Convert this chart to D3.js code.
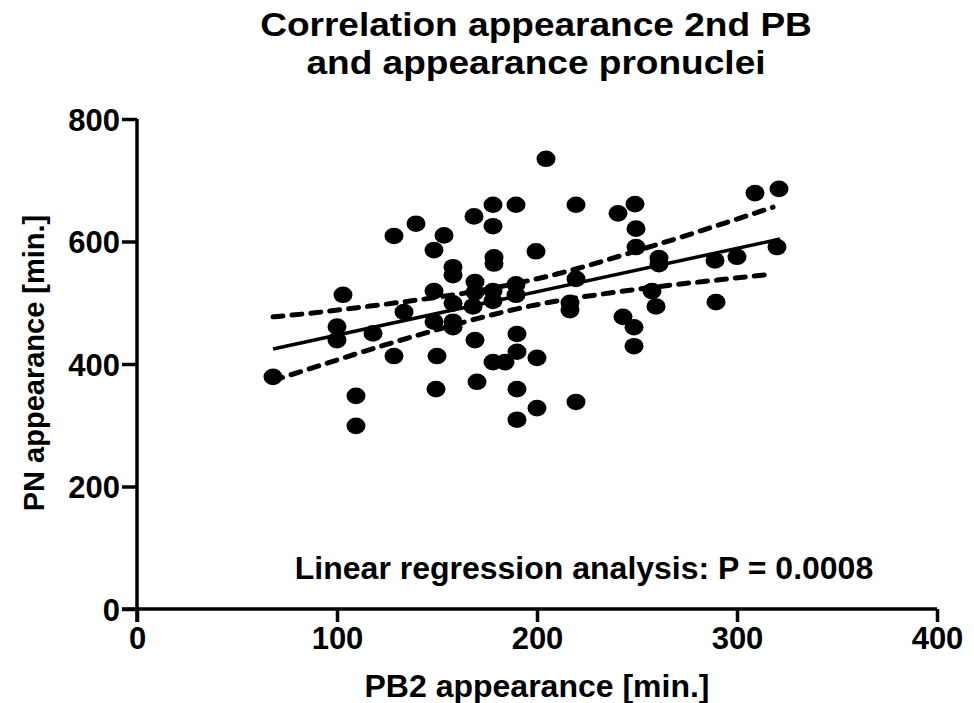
<!DOCTYPE html>
<html>
<head>
<meta charset="utf-8">
<script src="https://cdn.jsdelivr.net/npm/d3@7"></script>
<style>
  body { margin: 0; background: #fff; }
  svg { display: block; font-family: "Liberation Sans", Arial, sans-serif; font-weight: bold; }
  .axis path, .axis line { stroke: #000; stroke-width: 3.5px; }
  .axis text { font-size: 31px; font-weight: bold; fill: #000; font-family: "Liberation Sans", Arial, sans-serif; }
</style>
</head>
<body>
<svg id="chart" width="974" height="703"></svg>
<script>
// scatter points
const PB2 = [68, 100, 100, 103, 109.5, 109.5, 118, 128.5, 128.5, 133.5, 139.5, 148.5, 153.5, 148.5, 148.5,
  150, 149.5, 158, 158, 158, 158, 158, 168.5, 169, 169, 168, 169, 170, 178, 178, 178.5, 178.5, 178, 178,
  178, 184, 189.5, 189.5, 189.5, 190, 190, 190, 190, 199.5, 200, 200, 204.5, 219.5, 219.5, 216.5, 216.5,
  219.5, 240.5, 249, 249.5, 249.5, 243, 248.5, 248.5, 257.5, 259.5, 261, 261, 289, 289.5, 300, 309, 321, 320];
const PN = [379, 461, 439, 513, 348, 299, 450, 609, 413, 485, 629, 586, 610, 519, 469,
  413, 359, 558, 545, 499, 469, 460, 641, 534, 517, 494, 439, 371, 660, 625, 574, 564, 519, 503,
  403, 403, 660, 530, 513, 449, 420, 359, 309, 584, 410, 328, 735, 660, 539, 500, 488,
  338, 646, 661, 621, 591, 477, 460, 429, 519, 494, 573, 563, 569, 501, 575, 679, 686, 591];

// regression line and 95% band
const fitX = [68, 321.5];
const fitY = [424.5, 604];
const bandX = [68, 90, 110, 130, 150, 170, 190, 210, 230, 250, 270, 290, 318];
const bandUpper = [477, 484, 492, 500, 509, 519, 532, 547, 565, 585, 605, 626, 656];
const bandLower = [373, 396, 417, 437, 456, 474, 490, 503, 513, 522, 530, 537, 547];

const xTicks = [0, 100, 200, 300, 400];
const yTicks = [0, 200, 400, 600, 800];

const svg = d3.select("#chart");
const x = d3.scaleLinear().domain([0, 400]).range([137, 937]);
const y = d3.scaleLinear().domain([0, 800]).range([609, 119]);

// title (slightly widened, as in the original)
const title = svg.append("text")
  .attr("transform", "translate(536,0) scale(1.09,1)")
  .attr("text-anchor", "middle")
  .style("font-size", "34px");
title.append("tspan").attr("x", 0).attr("y", 36).text("Correlation appearance 2nd PB");
title.append("tspan").attr("x", 0).attr("y", 74).text("and appearance pronuclei");

// axes
svg.append("g")
  .attr("class", "axis")
  .attr("transform", "translate(0,609)")
  .call(d3.axisBottom(x).tickValues(xTicks).tickSize(13).tickSizeOuter(0).tickPadding(5))
  .call(g => g.select(".domain").attr("d", `M${x(0) - 15},0H${x(400)}`));

svg.append("g")
  .attr("class", "axis")
  .attr("transform", "translate(137,0)")
  .call(d3.axisLeft(y).tickValues(yTicks).tickSize(15).tickSizeOuter(0).tickPadding(2))
  .call(g => g.select(".domain").attr("d", `M0,${y(800)}V${y(0) + 13}`))
  .call(g => g.selectAll("text").attr("dy", "0.36em"));

// axis titles
svg.append("text")
  .attr("x", 537)
  .attr("y", 697)
  .attr("text-anchor", "middle")
  .style("font-size", "32px")
  .text("PB2 appearance [min.]");

svg.append("text")
  .attr("transform", "translate(44,363) rotate(-90)")
  .attr("text-anchor", "middle")
  .style("font-size", "29px")
  .text("PN appearance [min.]");

// points
const points = PB2.map((v, i) => ({ x: v, y: PN[i] }));
svg.append("g")
  .selectAll("ellipse")
  .data(points)
  .join("ellipse")
  .attr("cx", d => x(d.x))
  .attr("cy", d => y(d.y))
  .attr("rx", 9.5)
  .attr("ry", 8.3)
  .attr("fill", "#000");

// regression line
const line = d3.line().x(d => x(d[0])).y(d => y(d[1]));
svg.append("path")
  .attr("d", line(fitX.map((v, i) => [v, fitY[i]])))
  .attr("fill", "none")
  .attr("stroke", "#000")
  .attr("stroke-width", 3.5);

const bandLine = d3.line().x(d => x(d[0])).y(d => y(d[1])).curve(d3.curveMonotoneX);
[bandUpper, bandLower].forEach(band => {
  svg.append("path")
    .attr("d", bandLine(bandX.map((v, i) => [v, band[i]])))
    .attr("fill", "none")
    .attr("stroke", "#000")
    .attr("stroke-width", 5)
    .attr("stroke-linecap", "round")
    .attr("stroke-dasharray", "10 9");
});

// annotation
svg.append("text")
  .attr("x", 584)
  .attr("y", 579)
  .attr("text-anchor", "middle")
  .style("font-size", "32px")
  .text("Linear regression analysis: P = 0.0008");
</script>
</body>
</html>
